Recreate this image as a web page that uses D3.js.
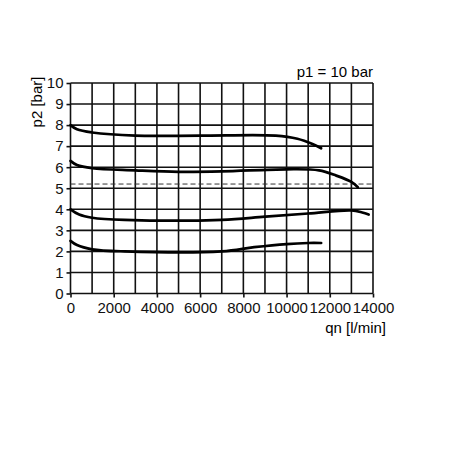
<!DOCTYPE html><html><head><script src="https://cdn.jsdelivr.net/npm/d3@7"></script>
<style>body{margin:0;background:#fff}</style></head><body><svg id="c" width="450" height="450"></svg><script>
const xTicks=[0,2000,4000,6000,8000,10000,12000,14000];
const yTicks=[0,1,2,3,4,5,6,7,8,9,10];
const curve1=[[0,8],[300,7.8],[1000,7.65],[3000,7.5],[6000,7.5],[9500,7.5],[10500,7.35],[11200,7.1],[11600,6.9]];
const curve2=[[0,6.3],[300,6.1],[1000,5.95],[3000,5.85],[5000,5.78],[7000,5.8],[10000,5.9],[11500,5.85],[12300,5.6],[13000,5.3],[13300,5.05]];
const curve3=[[0,4],[400,3.75],[1000,3.6],[2500,3.5],[7000,3.5],[9000,3.65],[11000,3.8],[13000,3.95],[13500,3.85],[13800,3.75]];
const curve4=[[0,2.5],[300,2.3],[1000,2.1],[2500,2.0],[7000,2.0],[8500,2.2],[10000,2.35],[11000,2.4],[11600,2.4]];
const dashed=5.2;
const svg=d3.select("#c");
const x=d3.scaleLinear().domain([0,14000]).range([70.5,373]);
const y=d3.scaleLinear().domain([0,10]).range([293.5,83]);
const g=svg.append("g");
g.selectAll(".vx").data(d3.range(0,14001,1000)).join("line").attr("x1",d=>x(d)).attr("x2",d=>x(d)).attr("y1",y(0)).attr("y2",y(10)).attr("stroke","#111").attr("stroke-width",1.6);
g.selectAll(".hy").data(yTicks).join("line").attr("x1",x(0)).attr("x2",x(14000)).attr("y1",d=>y(d)).attr("y2",d=>y(d)).attr("stroke","#111").attr("stroke-width",1.6);
g.append("line").attr("x1",x(0)).attr("x2",x(14000)).attr("y1",y(dashed)).attr("y2",y(dashed)).attr("stroke","#333").attr("stroke-dasharray","5,3").attr("stroke-width",1);
const font="Liberation Sans, Arial, sans-serif";
const ax=svg.append("g").attr("transform",`translate(0,${y(0)})`).call(d3.axisBottom(x).tickValues(xTicks).tickSize(4).tickFormat(d3.format("d")));
const ay=svg.append("g").attr("transform",`translate(${x(0)},0)`).call(d3.axisLeft(y).tickValues(yTicks).tickSize(4));
[ax,ay].forEach(a=>{a.select(".domain").remove();a.selectAll("line").attr("stroke","#111").attr("stroke-width",1.6);a.selectAll("text").attr("font-family",font).attr("font-size",15).attr("fill","#111");});
ax.selectAll("text").attr("dy","0.85em");
const line=d3.line().x(d=>x(d[0])).y(d=>y(d[1])).curve(d3.curveCatmullRom.alpha(0.5));
[curve1,curve2,curve3,curve4].forEach(c=>svg.append("path").attr("d",line(c)).attr("fill","none").attr("stroke","#000").attr("stroke-width",2.7).attr("stroke-linecap","round"));
svg.append("text").attr("x",373).attr("y",77).attr("text-anchor","end").attr("font-family",font).attr("font-size",15).text("p1 = 10 bar");
svg.append("text").attr("x",386).attr("y",333).attr("text-anchor","end").attr("font-family",font).attr("font-size",15).text("qn [l/min]");
svg.append("text").attr("transform","translate(42,102) rotate(-90)").attr("text-anchor","middle").attr("font-family",font).attr("font-size",15).text("p2 [bar]");
</script></body></html>
